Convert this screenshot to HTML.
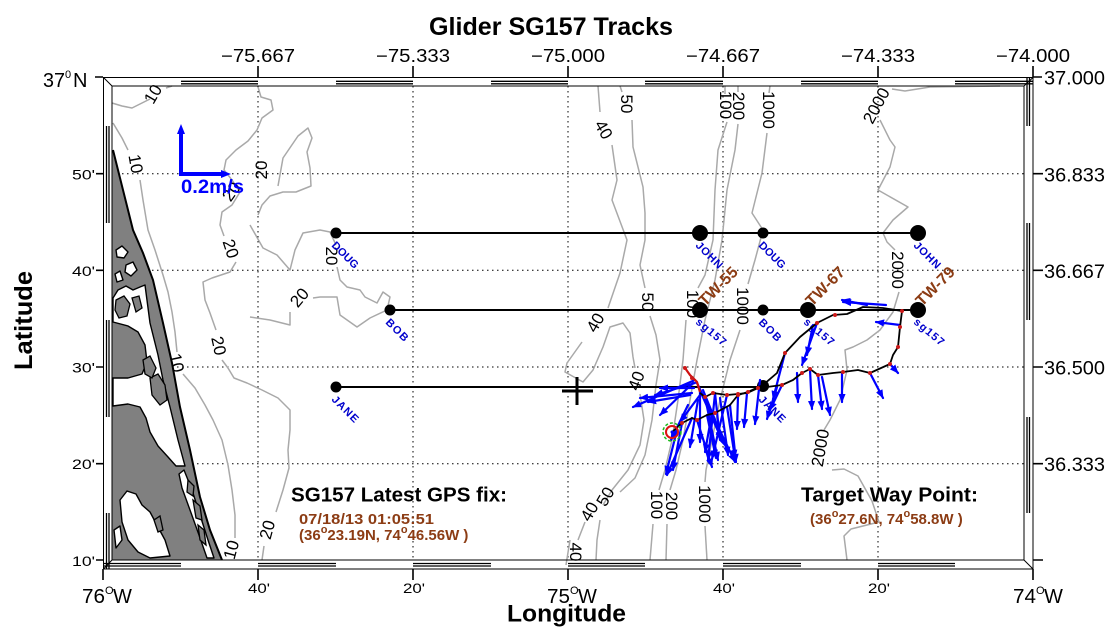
<!DOCTYPE html>
<html><head><meta charset="utf-8"><style>
html,body{margin:0;padding:0;background:#fff;}
svg{display:block;font-family:"Liberation Sans",Arial,sans-serif;}
</style></head><body>
<svg width="1116" height="633" viewBox="0 0 1116 633" xmlns="http://www.w3.org/2000/svg">
<defs>
<marker id="ah" viewBox="0 0 10 10" refX="9" refY="5" markerWidth="9" markerHeight="9" markerUnits="userSpaceOnUse" orient="auto"><path d="M0,1 L10,5 L0,9 z" fill="#0000ff"/></marker>
</defs>
<rect width="1116" height="633" fill="#fff"/>

<!-- grid -->
<g stroke="#000" stroke-width="1" stroke-dasharray="1.5,3.5" fill="none">
<path d="M258,86V560M413,86V560M568,86V560M723,86V560M878,86V560"/>
<path d="M112,173.7H1024M112,270.3H1024M112,367H1024M112,463.7H1024"/>
</g>

<!-- contours -->
<g stroke="#a9a9a9" stroke-width="1.5" fill="none" stroke-linejoin="round">
<path d="M112,103 L122,106 L132,108 L142,103 L150,99"/>
<path d="M166,88 L172,86"/>
<path d="M113,123 L122,138 L128,150"/>
<path d="M140,180 L143,200 L148,230 L155,250 L163,275 L168,292 L172,312 L175,332 L177,352"/>
<path d="M183,374 L195,388 L205,405 L213,420 L222,440 L228,465 L232,490 L235,515 L235,538"/>
<path d="M258,87 L261,97 L271,100 L273,110 L262,118 L257,130 L248,141 L236,150 L226,160 L224,170 L232,180 L240,192 L232,205 L222,212 L220,225 L224,236"/>
<path d="M278,186 L283,158 L298,136 L308,128 L312,138 L307,152 L310,168 L311,186 L296,192 L283,192 L270,196 L262,205 L258,215"/>
<path d="M236,262 L230,272 L212,278 L203,282 L205,300 L210,313 L216,330"/>
<path d="M222,360 L228,368 L234,378 L247,383 L262,390 L278,398 L290,410 L290,430 L288,450 L289,468 L283,490 L276,512"/>
<path d="M264,546 L262,560"/>
<path d="M250,225 L263,248 L277,255 L290,270 L295,250 L303,233 L320,230 L330,232 L336,245"/>
<path d="M337,267 L340,280 L347,287 L360,290 L365,297 L377,303 L383,292 L390,297 L387,310 L370,318 L357,327 L340,315 L337,297 L320,297 L313,298"/>
<path d="M290,312 L290,325 L270,320 L250,317"/>
<path d="M598,86 L600,112"/>
<path d="M612,145 L617,180 L612,200 L627,240 L620,273 L608,308"/>
<path d="M582,342 L567,363 L565,372 L583,382 L593,370 L603,347 L610,327 L623,323 L630,333 L633,357 L635,368"/>
<path d="M640,394 L644,420 L640,445 L628,470 L612,490 L603,505"/>
<path d="M585,522 L578,540"/>
<path d="M620,86 L622,92"/>
<path d="M632,120 L633,147 L643,187 L645,213 L645,240 L640,265 L645,288"/>
<path d="M650,316 L656,335 L660,360 L656,385 L652,420 L645,455 L635,478 L620,492"/>
<path d="M600,520 L597,540 L596,560"/>
<path d="M566,565 L570,540"/>
<path d="M725,86 L725,94"/><path d="M727,122 L718,150 L715,190 L713,240 L705,275 L698,288"/>
<path d="M686,320 L683,360 L678,400 L672,440 L665,470 L659,490"/><path d="M653,524 L650,560"/>
<path d="M738,86 L738,92"/><path d="M738,124 L735,150 L727,190 L722,240 L715,280 L705,320 L697,360 L690,400 L683,440 L676,470 L670,490"/><path d="M667,524 L666,560"/>
<path d="M770,86 L769,93"/><path d="M767,133 L762,173 L752,213 L763,230 L755,260 L748,284"/>
<path d="M740,330 L730,360 L720,400 L712,440 L706,470 L705,482"/><path d="M705,526 L707,560"/>
<path d="M1000,86 L930,87 L905,91 L892,89"/>
<path d="M880,120 L890,140 L895,147 L890,167 L878,190 L908,207 L893,220 L883,233 L887,242 L895,250"/>
<path d="M899,292 L893,312 L880,330 L867,340 L853,347 L845,350 L847,370 L840,400 L830,420 L824,430"/>
<path d="M832,470 L844,469 L858,476 L872,501 L879,522 L851,529 L844,536 L847,560"/>
</g>
<g font-size="17" fill="#000">
<text transform="translate(158,97) rotate(-60)" text-anchor="middle">10</text>
<text transform="translate(135,164) rotate(80)" text-anchor="middle" dy="5">10</text>
<text transform="translate(176,363) rotate(78)" text-anchor="middle" dy="5">10</text>
<text transform="translate(232,550) rotate(-75)" text-anchor="middle" dy="5">10</text>
<text transform="translate(262,170) rotate(-90)" text-anchor="middle" dy="5">20</text>
<text transform="translate(232,192) rotate(-55)" text-anchor="middle" dy="5">20</text>
<text transform="translate(230,249) rotate(72)" text-anchor="middle" dy="5">20</text>
<text transform="translate(218,346) rotate(78)" text-anchor="middle" dy="5">20</text>
<text transform="translate(300,298) rotate(-50)" text-anchor="middle" dy="5">20</text>
<text transform="translate(331,256) rotate(90)" text-anchor="middle" dy="5">20</text>
<text transform="translate(268,530) rotate(-75)" text-anchor="middle" dy="5">20</text>
<text transform="translate(603,130) rotate(60)" text-anchor="middle" dy="5">40</text>
<text transform="translate(626,104) rotate(90)" text-anchor="middle" dy="5">50</text>
<text transform="translate(596,323) rotate(-60)" text-anchor="middle" dy="5">40</text>
<text transform="translate(647,302) rotate(90)" text-anchor="middle" dy="5">50</text>
<text transform="translate(637,381) rotate(-70)" text-anchor="middle" dy="5">40</text>
<text transform="translate(590,512) rotate(-60)" text-anchor="middle" dy="5">40</text>
<text transform="translate(606,497) rotate(-60)" text-anchor="middle" dy="5">50</text>
<text transform="translate(575,552) rotate(90)" text-anchor="middle" dy="5">40</text>
<text transform="translate(725,105) rotate(90)" text-anchor="middle" dy="5">100</text>
<text transform="translate(738,106) rotate(90)" text-anchor="middle" dy="5">200</text>
<text transform="translate(768,110) rotate(90)" text-anchor="middle" dy="5">1000</text>
<text transform="translate(877,106) rotate(-62)" text-anchor="middle" dy="5">2000</text>
<text transform="translate(692,304) rotate(90)" text-anchor="middle" dy="5">100</text>
<text transform="translate(742,306) rotate(90)" text-anchor="middle" dy="5">1000</text>
<text transform="translate(897,270) rotate(90)" text-anchor="middle" dy="5">2000</text>
<text transform="translate(821,448) rotate(-80)" text-anchor="middle" dy="5">2000</text>
<text transform="translate(656,505) rotate(90)" text-anchor="middle" dy="5">100</text>
<text transform="translate(671,506) rotate(90)" text-anchor="middle" dy="5">200</text>
<text transform="translate(704,504) rotate(90)" text-anchor="middle" dy="5">1000</text>
</g>

<!-- land -->
<path d="M112,150 L113,150 L123,190 L133,230 L143,253 L153,280 L163,323 L172,363 L180,407 L190,450 L200,497 L210,530 L222,560 L112,560 Z" fill="#808080"/>
<g fill="#fff" stroke="#000" stroke-width="1.4" stroke-linejoin="round">
<path d="M113,298 L118,290 L126,286 L133,290 L140,287 L145,285 L150,323 L158,355 L163,380 L170,407 L178,440 L185,466 L176,466 L168,457 L158,446 L150,432 L146,418 L140,407 L128,404 L113,406 L113,378 L128,378 L142,374 L147,362 L145,345 L138,332 L128,326 L113,322 Z"/>
<path d="M116,250 L122,246 L128,252 L124,258 L117,257 Z"/>
<path d="M126,265 L133,262 L137,270 L131,276 L125,272 Z"/>
<path d="M115,274 L120,271 L123,280 L117,282 Z"/>
<path d="M120,500 L127,491 L136,494 L142,505 L150,512 L158,527 L165,540 L170,556 L150,558 L138,552 L128,540 L122,522 Z"/>
<path d="M184,470 L192,490 L200,515 L208,540 L214,558 L207,558 L199,535 L190,510 L182,488 L179,474 Z"/>
<path d="M114,530 L120,526 L122,540 L116,548 Z"/>
</g>
<g fill="#808080" stroke="#000" stroke-width="1.3">
<path d="M116,300 L124,296 L130,304 L127,316 L119,318 L115,310 Z"/>
<path d="M150,378 L158,374 L165,385 L167,400 L160,405 L152,395 Z"/>
<path d="M143,360 L150,356 L156,368 L152,378 L145,374 Z"/>
<path d="M132,298 L139,296 L142,308 L136,312 Z"/>
<path d="M188,480 L194,486 L193,496 L187,492 Z"/>
<path d="M193,500 L200,506 L202,520 L196,518 Z"/>
<path d="M198,525 L204,530 L206,545 L200,540 Z"/>
<path d="M154,520 L160,516 L163,530 L158,532 Z"/>
</g>
<path d="M113,150 L123,190 L133,230 L143,253 L153,280 L163,323 L172,363 L180,407 L190,450 L200,497 L210,530 L222,560" fill="none" stroke="#000" stroke-width="2"/>

<!-- frame -->
<g fill="none" stroke="#000" stroke-width="1">
<rect x="103.5" y="77.5" width="929.5" height="491.5"/>
<rect x="112" y="86" width="912" height="474"/>
<path d="M103.5,77.5 L112,86 M1033,77.5 L1024,86 M103.5,569 L112,560 M1033,569 L1024,560"/>
</g>
<g stroke="#000" stroke-width="1.3" fill="none">
<path d="M181,81.3H258M336,81.3H413M491,81.3H568M645,81.3H723M801,81.3H878M955,81.3H1033"/>
<path d="M181,83.8H258M336,83.8H413M491,83.8H568M645,83.8H723M801,83.8H878M955,83.8H1033"/>
<path d="M103,563.5H181M258,563.5H336M413,563.5H491M568,563.5H645M723,563.5H801M878,563.5H955"/>
<path d="M103,566H181M258,566H336M413,566H491M568,566H645M723,566H801M878,566H955"/>
<path d="M106.5,126V223M106.5,320V417M106.5,513V569"/>
<path d="M109,126V223M109,320V417M109,513V569"/>
<path d="M1027,77V126M1027,223V320M1027,417V513"/>
<path d="M1029.5,77V126M1029.5,223V320M1029.5,417V513"/>
</g>
<!-- ticks -->
<g stroke="#000" stroke-width="1.6">
<path d="M258,66V77M413,66V77M568,66V77M723,66V77M878,66V77M1033,66V77"/>
<path d="M103,569V580M258,569V580M413,569V580M568,569V580M723,569V580M878,569V580M1033,569V580"/>
<path d="M95,77H103M96,173.7H103M96,270.3H103M96,367H103M96,463.7H103M96,560H103"/>
<path d="M1033,77H1042M1033,173.7H1043M1033,270.3H1043M1033,367H1043M1033,463.7H1043M1033,560H1043"/>
</g>

<!-- axis labels -->
<g font-size="18" fill="#000">
<text x="221" y="62" textLength="74" lengthAdjust="spacingAndGlyphs">−75.667</text>
<text x="376" y="62" textLength="74" lengthAdjust="spacingAndGlyphs">−75.333</text>
<text x="531" y="62" textLength="74" lengthAdjust="spacingAndGlyphs">−75.000</text>
<text x="686" y="62" textLength="74" lengthAdjust="spacingAndGlyphs">−74.667</text>
<text x="841" y="62" textLength="74" lengthAdjust="spacingAndGlyphs">−74.333</text>
<text x="996" y="62" textLength="74" lengthAdjust="spacingAndGlyphs">−74.000</text>
</g>
<g font-size="19" fill="#000">
<text x="1044" y="84.5" textLength="61" lengthAdjust="spacingAndGlyphs">37.000</text>
<text x="1044" y="181.5" textLength="61" lengthAdjust="spacingAndGlyphs">36.833</text>
<text x="1044" y="278" textLength="61" lengthAdjust="spacingAndGlyphs">36.667</text>
<text x="1044" y="374.5" textLength="61" lengthAdjust="spacingAndGlyphs">36.500</text>
<text x="1044" y="471" textLength="61" lengthAdjust="spacingAndGlyphs">36.333</text>
</g>
<g font-size="14" fill="#000">
<text x="72" y="179.5" textLength="23" lengthAdjust="spacingAndGlyphs">50'</text>
<text x="72" y="276" textLength="23" lengthAdjust="spacingAndGlyphs">40'</text>
<text x="72" y="372.5" textLength="23" lengthAdjust="spacingAndGlyphs">30'</text>
<text x="72" y="469" textLength="23" lengthAdjust="spacingAndGlyphs">20'</text>
<text x="72" y="566" textLength="23" lengthAdjust="spacingAndGlyphs">10'</text>
<text x="248" y="593" textLength="22" lengthAdjust="spacingAndGlyphs">40'</text>
<text x="403" y="593" textLength="22" lengthAdjust="spacingAndGlyphs">20'</text>
<text x="713" y="593" textLength="22" lengthAdjust="spacingAndGlyphs">40'</text>
<text x="868" y="593" textLength="22" lengthAdjust="spacingAndGlyphs">20'</text>
</g>
<g fill="#000">
<text x="43" y="87" font-size="20" textLength="22" lengthAdjust="spacingAndGlyphs">37</text>
<text x="65" y="78" font-size="11">0</text>
<text x="73" y="87" font-size="20">N</text>
<text x="82" y="603" font-size="20" textLength="23" lengthAdjust="spacingAndGlyphs">76</text>
<text x="105" y="594" font-size="11">O</text>
<text x="113" y="603" font-size="20">W</text>
<text x="547" y="603" font-size="20" textLength="23" lengthAdjust="spacingAndGlyphs">75</text>
<text x="570" y="594" font-size="11">O</text>
<text x="578" y="603" font-size="20">W</text>
<text x="1013" y="603" font-size="20" textLength="23" lengthAdjust="spacingAndGlyphs">74</text>
<text x="1036" y="594" font-size="11">O</text>
<text x="1044" y="603" font-size="20">W</text>
</g>
<g font-weight="bold" fill="#000">
<text x="429" y="35" font-size="25" textLength="244" lengthAdjust="spacingAndGlyphs">Glider SG157 Tracks</text>
<text x="507" y="621.5" font-size="24" textLength="119" lengthAdjust="spacingAndGlyphs">Longitude</text>
<text transform="translate(32,370) rotate(-90)" font-size="25" textLength="99" lengthAdjust="spacingAndGlyphs">Latitude</text>
</g>

<!-- scale arrow -->
<g stroke="#0000ff" stroke-width="4" fill="none">
<path d="M181,175 L181,132"/><path d="M179,174 L224,174"/>
</g>
<path d="M181,124 L177,134 L185,134 Z" fill="#0000ff"/>
<path d="M231,174 L221,170 L221,178 Z" fill="#0000ff"/>
<text x="181" y="193" font-size="19" font-weight="bold" fill="#0000ff" textLength="63" lengthAdjust="spacingAndGlyphs">0.2m/s</text>

<!-- transect lines -->
<g stroke="#000" stroke-width="2">
<path d="M336,233H918M390,310H918M336,387H763"/>
</g>
<g fill="#000">
<circle cx="336" cy="233" r="5.5"/><circle cx="763" cy="233" r="5.5"/>
<circle cx="700" cy="233" r="8"/><circle cx="918" cy="233" r="8"/>
<circle cx="390" cy="310" r="5.5"/><circle cx="763" cy="310" r="5.5"/>
<circle cx="700" cy="310" r="8"/><circle cx="808" cy="310" r="8"/><circle cx="918" cy="310" r="8"/>
<circle cx="336" cy="387" r="5.5"/><circle cx="763" cy="386" r="6"/>
</g>
<path d="M562,391H593M577,377V405" stroke="#000" stroke-width="3"/>

<!-- blue waypoint labels -->
<g font-size="11" font-weight="bold" fill="#0000cc" lengthAdjust="spacingAndGlyphs">
<text transform="translate(331,246) rotate(45)" textLength="33">DOUG</text>
<text transform="translate(758,246) rotate(45)" textLength="33">DOUG</text>
<text transform="translate(695,246) rotate(45)" textLength="33">JOHN</text>
<text transform="translate(913,246) rotate(45)" textLength="33">JOHN</text>
<text transform="translate(385,323) rotate(45)" textLength="27">BOB</text>
<text transform="translate(758,323) rotate(45)" textLength="27">BOB</text>
<text transform="translate(695,323) rotate(40)" textLength="36">sg157</text>
<text transform="translate(803,323) rotate(40)" textLength="36">sg157</text>
<text transform="translate(913,323) rotate(40)" textLength="36">sg157</text>
<text transform="translate(331,400) rotate(45)" textLength="33">JANE</text>
<text transform="translate(758,400) rotate(45)" textLength="33">JANE</text>
</g>
<g font-size="16" font-weight="bold" fill="#8c3c14" lengthAdjust="spacingAndGlyphs">
<text transform="translate(705,307) rotate(-45)" textLength="48">TW-55</text>
<text transform="translate(812,307) rotate(-45)" textLength="48">TW-67</text>
<text transform="translate(922,307) rotate(-45)" textLength="48">TW-79</text>
</g>

<!-- velocity arrows -->
<g stroke="#0000ff" stroke-width="2.2" fill="none" marker-end="url(#ah)" stroke-linecap="round">
<path d="M886,305 L843,302"/><path d="M867,305 L842,300"/><path d="M900,325 L876,322"/>
<path d="M817,323 L802,365"/><path d="M813,325 L807,355"/><path d="M785,353 L773,399"/>
<path d="M797,373 L798,402"/><path d="M810,370 L812,409"/><path d="M818,375 L822,409"/>
<path d="M822,377 L830,415"/><path d="M842,372 L842,402"/><path d="M870,373 L883,398"/>
<path d="M890,364 L898,373"/><path d="M760,380 L755,424"/><path d="M777,387 L767,419"/>
<path d="M782,385 L770,410"/><path d="M747,393 L744,427"/><path d="M738,396 L737,429"/>
<path d="M727,395 L712,459"/><path d="M715,394 L708,460"/><path d="M705,397 L718,460"/>
<path d="M697,383 L735,462"/><path d="M695,380 L633,407"/><path d="M695,383 L655,395"/>
<path d="M693,383 L660,415"/><path d="M692,418 L667,475"/><path d="M682,423 L673,470"/>
<path d="M677,430 L666,474"/><path d="M698,400 L690,447"/><path d="M700,390 L700,442"/>
<path d="M690,395 L648,402"/><path d="M707,415 L716,458"/><path d="M727,407 L735,458"/>
<path d="M700,395 L680,422"/><path d="M703,390 L726,447"/><path d="M712,413 L705,452"/>
<path d="M730,405 L736,462"/><path d="M697,420 L712,467"/><path d="M715,393 L720,440"/>
<path d="M692,393 L640,398"/><path d="M694,388 L660,388"/><path d="M702,395 L722,440"/>
<path d="M688,405 L671,440"/><path d="M720,398 L728,455"/>
</g>

<!-- glider track -->
<g fill="none" stroke="#000" stroke-width="1.8" stroke-linejoin="round">
<path d="M672,432 L682,423 L692,418 L697,420 L707,415 L715,413 L730,405 L738,395 L748,392 L763,385 L777,373 L785,353 L800,337 L817,323 L833,315 L847,314 L863,307 L883,308 L902,311"/>
<path d="M902,311 L900,327 L898,347 L893,355 L890,364 L870,373 L858,370 L843,372 L833,373 L818,375 L810,369 L802,373 L793,380 L782,385 L767,387 L758,388 L747,393 L738,394 L727,395 L713,393 L705,397 L700,393"/>
</g>
<path d="M685,368 L690,375 L697,382 L700,392" stroke="#d01010" stroke-width="2.2" fill="none"/>
<g fill="#cc1a1a">
<circle cx="682" cy="423" r="2"/><circle cx="697" cy="420" r="2"/><circle cx="715" cy="413" r="2"/><circle cx="738" cy="395" r="2"/><circle cx="748" cy="392" r="2"/><circle cx="785" cy="353" r="2"/><circle cx="817" cy="323" r="2"/><circle cx="835" cy="315" r="2"/><circle cx="902" cy="311" r="2"/><circle cx="900" cy="327" r="2"/><circle cx="898" cy="347" r="2"/><circle cx="890" cy="364" r="2"/><circle cx="870" cy="373" r="2"/><circle cx="843" cy="372" r="2"/><circle cx="818" cy="375" r="2"/><circle cx="810" cy="369" r="2"/><circle cx="802" cy="373" r="2"/><circle cx="782" cy="385" r="2"/><circle cx="758" cy="388" r="2"/><circle cx="738" cy="394" r="2"/><circle cx="713" cy="393" r="2"/><circle cx="705" cy="397" r="2"/><circle cx="727" cy="395" r="2"/><circle cx="685" cy="368" r="2"/><circle cx="692" cy="378" r="2"/>
</g>
<!-- latest position -->
<circle cx="672" cy="432" r="9" fill="none" stroke="#22bb22" stroke-width="1.5" stroke-dasharray="3,2"/>
<circle cx="672" cy="432" r="6" fill="none" stroke="#dd1111" stroke-width="2"/>
<circle cx="672" cy="432" r="1.5" fill="#0000ff"/>

<!-- info texts -->
<g font-weight="bold">
<text x="291" y="501.5" font-size="20" fill="#000" textLength="216" lengthAdjust="spacingAndGlyphs">SG157 Latest GPS fix:</text>
<text x="299" y="524" font-size="15" fill="#8c3c14" textLength="135" lengthAdjust="spacingAndGlyphs">07/18/13 01:05:51</text>
<text x="299" y="540" font-size="15" fill="#8c3c14">(36<tspan font-size="11" dy="-7">o</tspan><tspan dy="7">23.19N, 74</tspan><tspan font-size="11" dy="-7">o</tspan><tspan dy="7">46.56W )</tspan></text>
<text x="801" y="501.5" font-size="20" fill="#000" textLength="177" lengthAdjust="spacingAndGlyphs">Target Way Point:</text>
<text x="810" y="524" font-size="15" fill="#8c3c14">(36<tspan font-size="11" dy="-7">o</tspan><tspan dy="7">27.6N, 74</tspan><tspan font-size="11" dy="-7">o</tspan><tspan dy="7">58.8W )</tspan></text>
</g>
</svg>
</body></html>
